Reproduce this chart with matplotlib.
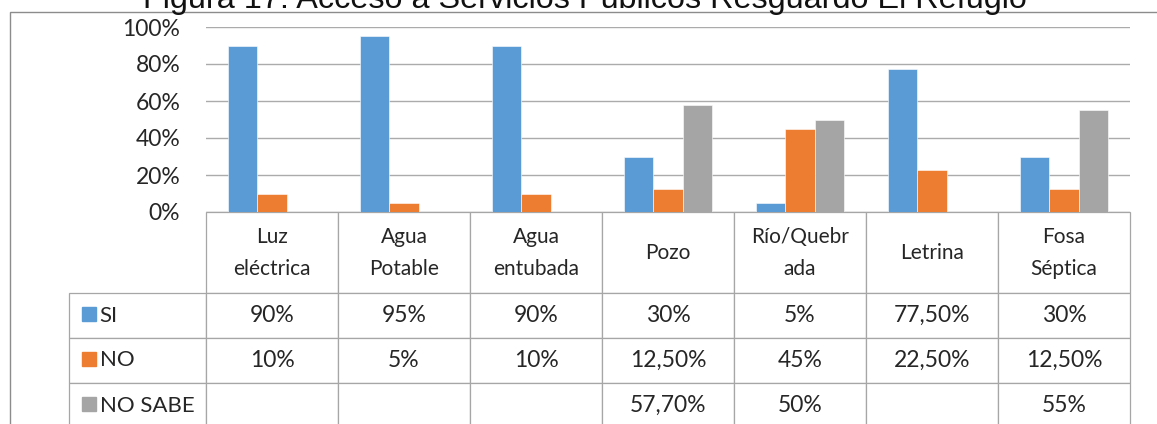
import matplotlib
matplotlib.use("Agg")
import matplotlib.pyplot as plt
from matplotlib.patches import Rectangle
from matplotlib.ticker import FuncFormatter
import numpy as np

# Datos
categorias = ["Luz\neléctrica", "Agua\nPotable", "Agua\nentubada", "Pozo",
              "Río/Quebr\nada", "Letrina", "Fosa\nSéptica"]
series = ["SI", "NO", "NO SABE"]
si = [90, 95, 90, 30, 5, 77.5, 30]
no = [10, 5, 10, 12.5, 45, 22.5, 12.5]
no_sabe = [None, None, None, 57.7, 50, None, 55]
colores = ["#5B9BD5", "#ED7D31", "#A5A5A5"]
titulo = "Figura 17: Acceso a Servicios Públicos Resguardo El Refugio"

W, H = 1157, 424
plt.rcParams['font.family'] = ['Lato', 'DejaVu Sans']


def etiqueta(v):
    if v is None:
        return ""
    if v == int(v):
        return "%d%%" % v
    return ("%.2f%%" % v).replace(".", ",")


# Ejes en pixeles de la imagen
ax_l, ax_r, ax_t, ax_b = 206, 1130, 27, 212
aw, ah = ax_r - ax_l, ax_b - ax_t
fig = plt.figure(figsize=(W / 100, H / 100), dpi=100)
ax = fig.add_axes([ax_l / W, 1 - ax_b / H, aw / W, ah / H])


def px2ax(x, y):
    return (x - ax_l) / aw, (ax_b - y) / ah


x = np.arange(len(categorias))
ancho = 0.222
for i, valores in enumerate([si, no, no_sabe]):
    vals = [np.nan if v is None else v for v in valores]
    ax.bar(x + (i - 1) * ancho, vals, ancho, color=colores[i],
           edgecolor="white", linewidth=0.4, zorder=3)

ax.set_xlim(-0.5, len(categorias) - 0.5)
ax.set_ylim(0, 100)
ax.set_yticks(range(0, 101, 20))
ax.yaxis.set_major_formatter(FuncFormatter(lambda v, p: "%d%%" % v))
ax.yaxis.grid(True, color="#ABABAB", linewidth=1.0, zorder=0)
ax.set_xticks([])
for s in ax.spines.values():
    s.set_visible(False)
ax.tick_params(axis="y", length=0, pad=18.5, labelsize=16.5, labelcolor="#262626")

# Tabla de datos (la columna de series queda fuera del bbox, a la izquierda)
filas = [[etiqueta(v) for v in valores] for valores in [si, no, no_sabe]]
alto_cab, alto_fila = 81 / ah, 45 / ah
alto_tabla = alto_cab + 3 * alto_fila
tabla = ax.table(cellText=filas, rowLabels=series, colLabels=categorias,
                 cellLoc="center", rowLoc="left",
                 bbox=[0, -alto_tabla, 1, alto_tabla])
tabla.auto_set_font_size(False)
for (r, c), celda in tabla.get_celld().items():
    celda.set_edgecolor("#A6A6A6")
    celda.set_linewidth(0.9)
    texto = celda.get_text()
    texto.set_color("#262626")
    texto.set_linespacing(1.75)
    texto.set_fontsize(15 if r == 0 else 16.5)
    celda.set_height(alto_cab if r == 0 else alto_fila)
    celda.set_width((134 if c == -1 else 132) / aw)
    if c == -1:
        celda.PAD = 30 / 134
        texto.set_fontsize(16)

# Cuadros de la leyenda
for i, color in enumerate(colores):
    yc = 293 + 45 * i + 21
    cx, cy = px2ax(82, yc + 7)
    ax.add_patch(Rectangle((cx, cy), 14 / aw, 14 / ah, transform=ax.transAxes,
                           color=color, clip_on=False, zorder=4))

# Borde exterior del grafico
fig.add_artist(Rectangle((10 / W, -0.1), 1.2, 1 - 12 / H + 0.1,
                         transform=fig.transFigure, fill=False,
                         edgecolor="#8C8C8C", linewidth=1.0))

fig.text(585 / W, 1 - 8 / H, titulo, ha="center", va="baseline",
         fontsize=23.3, family=["Liberation Sans", "DejaVu Sans"], color="#111111")

fig.savefig("out.png", dpi=100)
